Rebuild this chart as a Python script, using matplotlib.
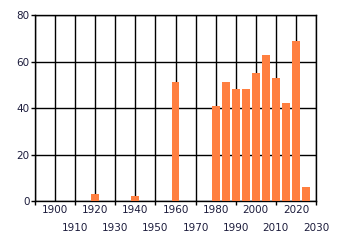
import matplotlib
matplotlib.use("Agg")
import matplotlib.pyplot as plt

# -------- data --------
years = [1920, 1940, 1960, 1980, 1985, 1990, 1995, 2000, 2005, 2010, 2015, 2020, 2025]
counts = [3, 2, 51, 41, 51, 48, 48, 55, 63, 53, 42, 69, 6]
even_decades = list(range(1900, 2021, 20))
odd_decades = list(range(1890, 2031, 20))
y_ticks = [0, 20, 40, 60, 80]

bar_color = "#ff7f40"
text_color = "#1c1c3c"

fig = plt.figure(figsize=(3.4, 2.45), dpi=100)
ax = fig.add_axes([35 / 340, 44 / 245, 281 / 340, 186 / 245])

ax.bar(years, counts, width=3.85, color=bar_color, zorder=3)

ax.set_xlim(1890, 2030)
ax.set_ylim(0, 80)

# decade labels on two rows: even decades on top, odd ones below
ax.set_xticks(even_decades)
ax.set_xticklabels([str(d) for d in even_decades], fontsize=7.5, color=text_color)
ax.set_xticks(odd_decades, minor=True)
ax.set_xticklabels(["" if d == 1890 else str(d) for d in odd_decades],
                   minor=True, fontsize=7.5, color=text_color)
ax.tick_params(axis="x", which="major", length=0, pad=3)
ax.tick_params(axis="x", which="minor", length=3, width=1, color="black", pad=13)

ax.set_yticks(y_ticks)
ax.set_yticklabels([str(v) for v in y_ticks], fontsize=7.5, color=text_color)
ax.tick_params(axis="y", length=3, width=1, pad=1)

ax.grid(True, which="both", color="black", linewidth=1, zorder=0)
ax.set_axisbelow(True)
for s in ax.spines.values():
    s.set_color("black")
    s.set_linewidth(1)

fig.savefig("out.png", dpi=100)
